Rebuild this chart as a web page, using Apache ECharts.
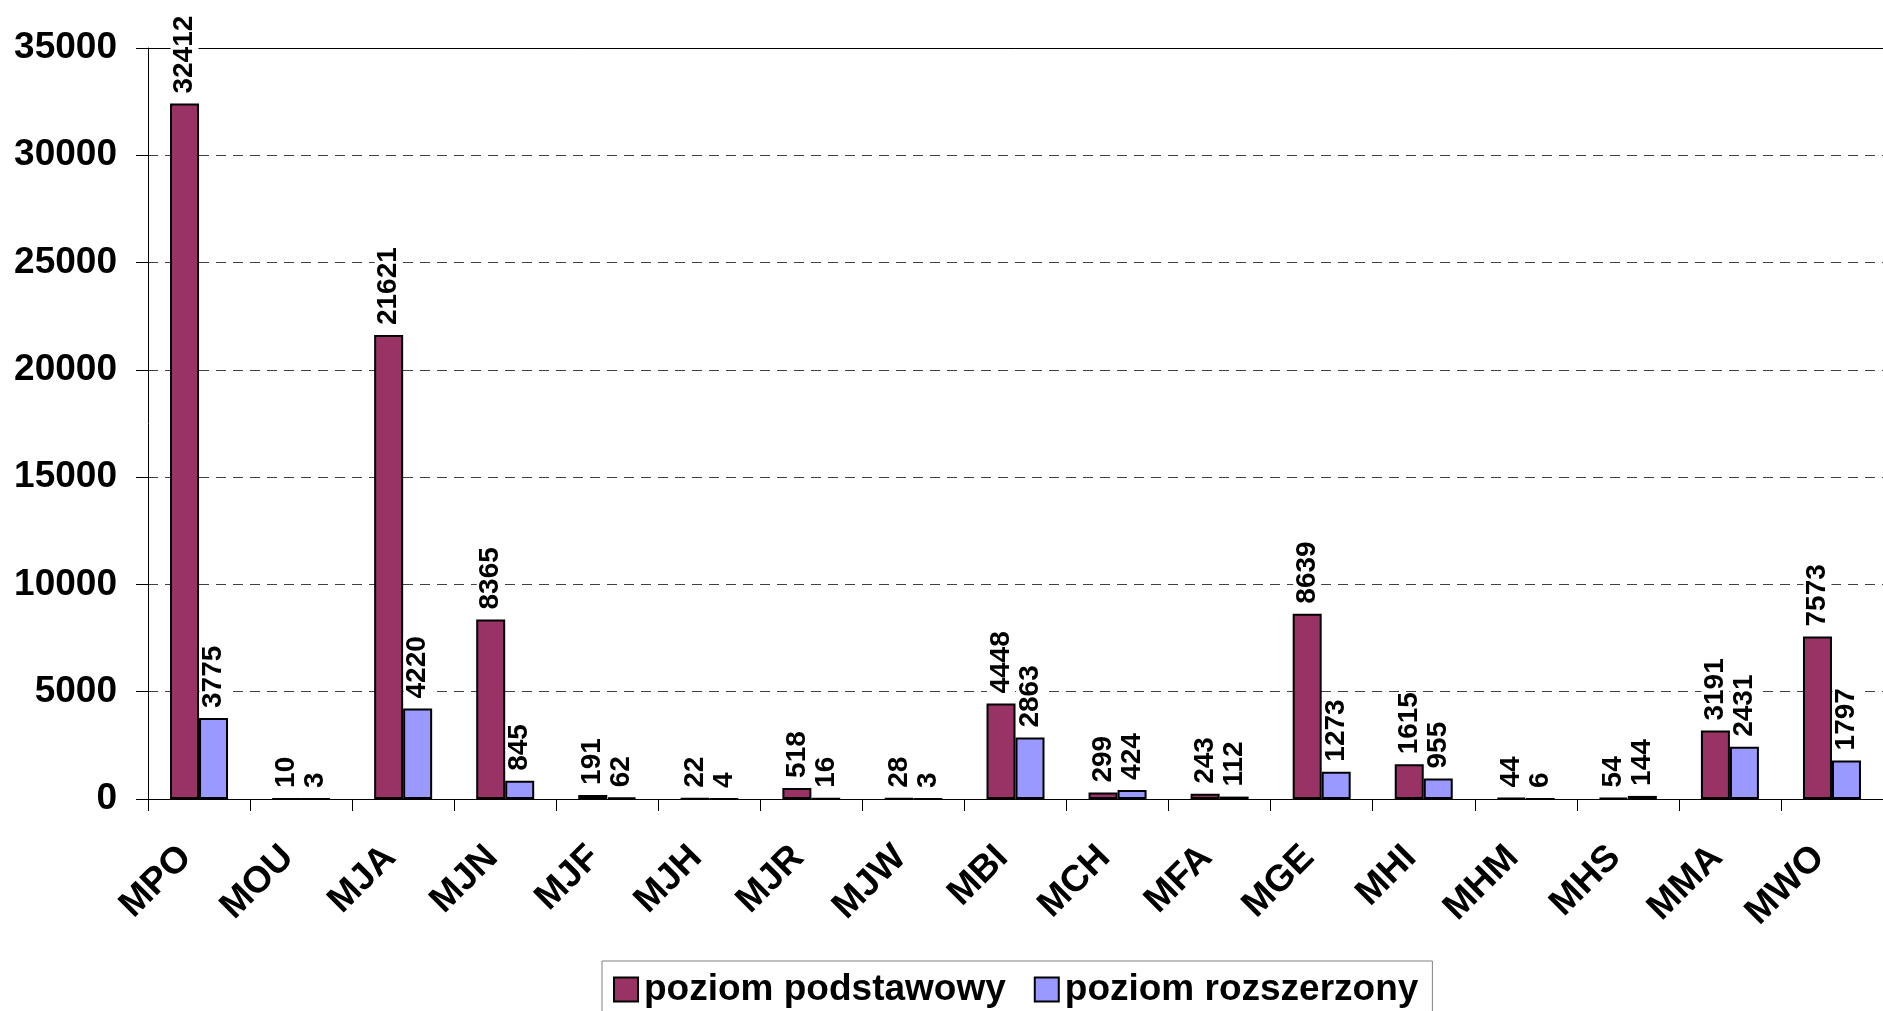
<!DOCTYPE html>
<html>
<head>
<meta charset="utf-8">
<script src="https://cdn.jsdelivr.net/npm/echarts@6/dist/echarts.min.js"></script>
<style>
  html, body { margin: 0; padding: 0; background: #fff; }
  #main { width: 1883px; height: 1011px; }
</style>
</head>
<body>
<div id="main"></div>
<script>
// kategorie (przedmioty)
const categories = ['MPO', 'MOU', 'MJA', 'MJN', 'MJF', 'MJH', 'MJR', 'MJW', 'MBI',
  'MCH', 'MFA', 'MGE', 'MHI', 'MHM', 'MHS', 'MMA', 'MWO']
// poziom podstawowy
const basic = [32412, 10, 21621, 8365, 191, 22, 518, 28, 4448, 299, 243, 8639, 1615, 44, 54, 3191, 7573]
// poziom rozszerzony
const extended = [3775, 3, 4220, 845, 62, 4, 16, 3, 2863, 424, 112, 1273, 955, 6, 144, 2431, 1797]
const seriesNames = ['poziom podstawowy', 'poziom rozszerzony']

const font = "'Liberation Sans', Arial, sans-serif"

const myChart = echarts.init(document.getElementById('main'))

// etykiety wartości nad słupkami (pionowe)
const barLabel = {
  show: true,
  position: 'top',
  distance: 10,
  rotate: 90,
  align: 'left',
  verticalAlign: 'middle',
  fontFamily: font,
  fontWeight: 'bold',
  fontSize: 28,
  color: '#000',
  backgroundColor: '#fff',
  padding: [0, 0]
}

const option = {
  animation: false,
  backgroundColor: '#fff',
  grid: {
    left: 148,
    right: 0,
    top: 48,
    bottom: 212
  },
  legend: {
    data: seriesNames,
    left: 602,
    top: 961,
    padding: [10, 14, 10, 11],
    itemWidth: 24,
    itemHeight: 24,
    itemGap: 28,
    borderColor: '#808080',
    borderWidth: 1,
    icon: 'rect',
    textStyle: {
      fontFamily: font,
      fontWeight: 'bold',
      fontSize: 37,
      color: '#000',
      padding: [0, 0, 0, 1]
    }
  },
  xAxis: [
    {
      type: 'category',
      data: categories,
      axisLine: { lineStyle: { color: '#000', width: 1 } },
      axisTick: { show: true, length: 12, lineStyle: { color: '#000' } },
      axisLabel: {
        rotate: 45,
        margin: 66,
        verticalAlign: 'bottom',
        fontFamily: font,
        fontWeight: 'bold',
        fontSize: 37,
        color: '#000',
        interval: 0
      }
    },
    {
      // górna krawędź obszaru wykresu
      type: 'category',
      data: categories,
      position: 'top',
      axisLine: { show: true, lineStyle: { color: '#000', width: 1 } },
      axisTick: { show: false },
      axisLabel: { show: false }
    }
  ],
  yAxis: {
    type: 'value',
    min: 0,
    max: 35000,
    interval: 5000,
    axisLine: { show: true, lineStyle: { color: '#000', width: 1 } },
    axisTick: { show: true, length: 12, lineStyle: { color: '#000' } },
    axisLabel: {
      margin: 31,
      formatter: (v) => String(v),
      fontFamily: font,
      fontWeight: 'bold',
      fontSize: 37,
      color: '#000'
    },
    splitLine: {
      show: true,
      lineStyle: { color: '#404040', width: 1, type: [10, 7] }
    }
  },
  series: [
    {
      name: seriesNames[0],
      type: 'bar',
      data: basic,
      barWidth: 29,
      barGap: '0%',
      itemStyle: { color: '#993366', borderColor: '#000', borderWidth: 2 },
      label: barLabel
    },
    {
      name: seriesNames[1],
      type: 'bar',
      data: extended,
      barWidth: 29,
      barGap: '0%',
      itemStyle: { color: '#9999FF', borderColor: '#000', borderWidth: 2 },
      label: barLabel
    }
  ]
}

myChart.setOption(option)
</script>
</body>
</html>
